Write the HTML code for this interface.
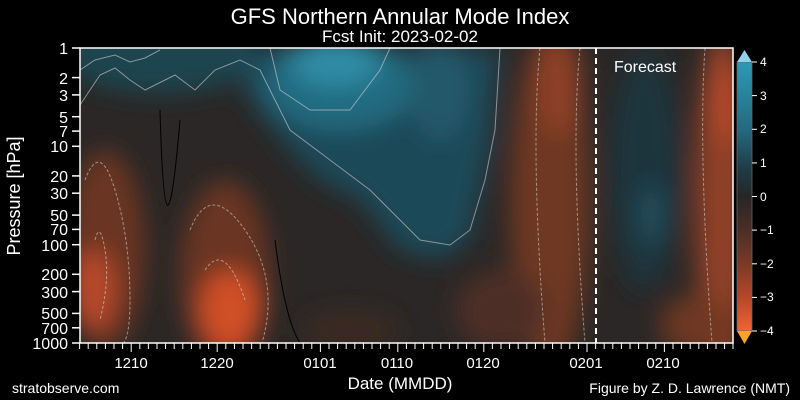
<!DOCTYPE html>
<html><head><style>
body{margin:0;background:#000;}
svg{display:block;font-family:"Liberation Sans",Arial,sans-serif;}
</style></head><body>
<svg width="800" height="400" viewBox="0 0 800 400" xmlns="http://www.w3.org/2000/svg">
<defs>
<clipPath id="pc"><rect x="80" y="48" width="653" height="295"/></clipPath>
<filter id="b1" x="-50%" y="-50%" width="200%" height="200%"><feGaussianBlur stdDeviation="12"/></filter>
<linearGradient id="cb" x1="0" y1="0" x2="0" y2="1">
<stop offset="0" stop-color="#2d9ab6"/>
<stop offset="0.25" stop-color="#246a80"/>
<stop offset="0.4" stop-color="#1f3b45"/>
<stop offset="0.5" stop-color="#262626"/>
<stop offset="0.62" stop-color="#4a2e25"/>
<stop offset="0.75" stop-color="#7a3a25"/>
<stop offset="0.88" stop-color="#b8482a"/>
<stop offset="1" stop-color="#f26432"/>
</linearGradient>
</defs>
<rect width="800" height="400" fill="#000"/>
<text x="400" y="24" fill="#fff" font-size="22" text-anchor="middle">GFS Northern Annular Mode Index</text>
<text x="400" y="42" fill="#fff" font-size="17" text-anchor="middle">Fcst Init: 2023-02-02</text>
<g clip-path="url(#pc)">
<rect x="80" y="48" width="653" height="295" fill="#2a2726"/>
<g filter="url(#b1)">
<ellipse cx="160" cy="55" rx="100" ry="38" fill="#1f4550"/>
<path d="M230 48 L500 48 L490 150 L470 240 L440 260 L400 250 L360 200 L320 180 L290 150 L250 100 Z" fill="#1f4a58"/>
<ellipse cx="340" cy="85" rx="75" ry="45" fill="#246a80"/>
<ellipse cx="335" cy="62" rx="45" ry="25" fill="#2d8ca6"/>
<ellipse cx="440" cy="90" rx="30" ry="50" fill="#22596a"/>
<ellipse cx="105" cy="250" rx="40" ry="100" fill="#6a3624"/>
<ellipse cx="93" cy="290" rx="22" ry="40" fill="#b8482a"/>
<ellipse cx="225" cy="275" rx="45" ry="95" fill="#6a3624"/>
<ellipse cx="230" cy="310" rx="30" ry="40" fill="#d05028"/>
<ellipse cx="550" cy="200" rx="40" ry="170" fill="#6e3824"/>
<ellipse cx="560" cy="85" rx="22" ry="50" fill="#8e4026"/>
<ellipse cx="500" cy="310" rx="45" ry="40" fill="#4e2f25"/>
<ellipse cx="350" cy="330" rx="50" ry="20" fill="#3a2a24"/>
<ellipse cx="645" cy="170" rx="35" ry="120" fill="#1f363e"/>
<ellipse cx="652" cy="215" rx="12" ry="30" fill="#234f5e"/>
<ellipse cx="722" cy="200" rx="28" ry="170" fill="#8e4026"/>
<ellipse cx="695" cy="325" rx="35" ry="30" fill="#6e3824"/>
<ellipse cx="728" cy="100" rx="14" ry="45" fill="#b8482a"/>
</g>
<g fill="none" stroke="#ddd" stroke-width="1" opacity="0.55">
<path d="M80 70 L95 60 L115 55 L130 62 L145 58 L160 50"/>
<path d="M80 105 L100 75 L115 68 L130 80 L145 90 L155 85 L175 75 L195 90 L215 70 L240 60 L260 70 L290 130 L330 160 L370 190 L400 220 L420 240 L450 245 L470 230 L485 180 L495 130 L500 48"/>
<path d="M270 48 L280 90 L310 110 L350 110 L380 70 L390 48"/>
</g>
<g fill="none" stroke="#ddd" stroke-width="1" stroke-dasharray="3,2" opacity="0.55">
<path d="M85 180 Q100 140 115 190 T130 300 T110 343"/>
<path d="M95 240 Q100 220 105 250 T100 320"/>
<path d="M190 230 Q210 180 245 230 T262 343"/>
<path d="M205 270 Q225 240 245 300"/>
<path d="M540 48 Q530 150 545 343"/>
<path d="M580 48 Q570 150 585 343"/>
<path d="M705 48 Q698 150 712 343"/>
</g>
<path d="M160 110 Q165 295 180 120 M275 240 Q285 320 300 343" fill="none" stroke="#000" stroke-width="1"/>
<line x1="596" y1="48" x2="596" y2="343" stroke="#fff" stroke-width="2" stroke-dasharray="6,4"/>
<text x="614" y="72" fill="#fff" font-size="16">Forecast</text>
</g>
<rect x="80" y="48" width="653" height="295" fill="none" stroke="#fff" stroke-width="1.5"/>
<g fill="#fff" font-size="16" text-anchor="end" stroke="#fff">
<g stroke-width="1.5">
<line x1="72" y1="48" x2="80" y2="48"/><line x1="72" y1="77.6" x2="80" y2="77.6"/><line x1="72" y1="94.9" x2="80" y2="94.9"/><line x1="72" y1="116.7" x2="80" y2="116.7"/><line x1="72" y1="131.1" x2="80" y2="131.1"/><line x1="72" y1="146.3" x2="80" y2="146.3"/><line x1="72" y1="175.9" x2="80" y2="175.9"/><line x1="72" y1="193.2" x2="80" y2="193.2"/><line x1="72" y1="215.1" x2="80" y2="215.1"/><line x1="72" y1="229.4" x2="80" y2="229.4"/><line x1="72" y1="244.7" x2="80" y2="244.7"/><line x1="72" y1="274.3" x2="80" y2="274.3"/><line x1="72" y1="291.6" x2="80" y2="291.6"/><line x1="72" y1="313.4" x2="80" y2="313.4"/><line x1="72" y1="327.8" x2="80" y2="327.8"/><line x1="72" y1="343" x2="80" y2="343"/>
</g>
<g stroke="none">
<text x="68" y="54">1</text><text x="68" y="84">2</text><text x="68" y="101">3</text><text x="68" y="123">5</text><text x="68" y="137">7</text><text x="68" y="152">10</text><text x="68" y="182">20</text><text x="68" y="199">30</text><text x="68" y="221">50</text><text x="68" y="235">70</text><text x="68" y="251">100</text><text x="68" y="280">200</text><text x="68" y="298">300</text><text x="68" y="319">500</text><text x="68" y="334">700</text><text x="68" y="349">1000</text>
</g>
</g>
<text transform="translate(20,196) rotate(-90)" fill="#fff" font-size="18" text-anchor="middle">Pressure [hPa]</text>
<path stroke="#fff" stroke-width="1" fill="none" d="M79.6 343v6M88.2 343v6M96.8 343v6M105.4 343v6M114 343v6M122.6 343v6M131.2 343v9M139.8 343v6M148.4 343v6M157 343v6M165.6 343v6M174.2 343v6M182.8 343v6M191.4 343v6M200 343v6M208.6 343v6M217.2 343v9M225.8 343v6M234.4 343v6M243 343v6M251.6 343v6M260.2 343v6M268.8 343v6M277.4 343v6M286 343v6M294.6 343v6M303.2 343v6M311.8 343v6M320.4 343v9M329 343v6M337.6 343v6M346.2 343v6M354.8 343v6M363.4 343v6M372 343v6M380.6 343v6M389.2 343v6M397.8 343v9M406.4 343v6M415 343v6M423.6 343v6M432.2 343v6M440.8 343v6M449.4 343v6M458 343v6M466.6 343v6M475.2 343v6M483.8 343v9M492.4 343v6M501 343v6M509.6 343v6M518.2 343v6M526.8 343v6M535.4 343v6M544 343v6M552.6 343v6M561.2 343v6M569.8 343v6M578.4 343v6M587 343v9M595.6 343v6M604.2 343v6M612.8 343v6M621.4 343v6M630 343v6M638.6 343v6M647.2 343v6M655.8 343v6M664.4 343v9M673 343v6M681.6 343v6M690.2 343v6M698.8 343v6M707.4 343v6M716 343v6M724.6 343v6M733 343v6"/>
<g fill="#fff" font-size="15" text-anchor="middle">
<text x="131" y="368">1210</text><text x="217" y="368">1220</text><text x="320" y="368">0101</text><text x="397" y="368">0110</text><text x="483" y="368">0120</text><text x="586" y="368">0201</text><text x="663" y="368">0210</text>
</g>
<text x="400" y="389" fill="#fff" font-size="17" text-anchor="middle">Date (MMDD)</text>
<text x="12" y="393" fill="#fff" font-size="14">stratobserve.com</text>
<text x="790" y="393" fill="#fff" font-size="14" text-anchor="end">Figure by Z. D. Lawrence (NMT)</text>
<rect x="737" y="62" width="15" height="269" fill="url(#cb)" stroke="#666" stroke-width="0.8"/>
<polygon points="737,62 752,62 744.5,50" fill="#8fd0ea"/>
<polygon points="737,331 752,331 744.5,344" fill="#f5a623"/>
<g stroke="#fff" stroke-width="1">
<line x1="752" y1="62" x2="757" y2="62"/><line x1="752" y1="95.6" x2="757" y2="95.6"/><line x1="752" y1="129.3" x2="757" y2="129.3"/><line x1="752" y1="162.9" x2="757" y2="162.9"/><line x1="752" y1="196.5" x2="757" y2="196.5"/><line x1="752" y1="230.1" x2="757" y2="230.1"/><line x1="752" y1="263.8" x2="757" y2="263.8"/><line x1="752" y1="297.4" x2="757" y2="297.4"/><line x1="752" y1="331" x2="757" y2="331"/>
</g>
<g fill="#fff" font-size="12">
<text x="760" y="66">4</text><text x="760" y="100">3</text><text x="760" y="133">2</text><text x="760" y="167">1</text><text x="760" y="201">0</text><text x="760" y="234">−1</text><text x="760" y="268">−2</text><text x="760" y="301">−3</text><text x="760" y="335">−4</text>
</g>
</svg>
</body></html>
